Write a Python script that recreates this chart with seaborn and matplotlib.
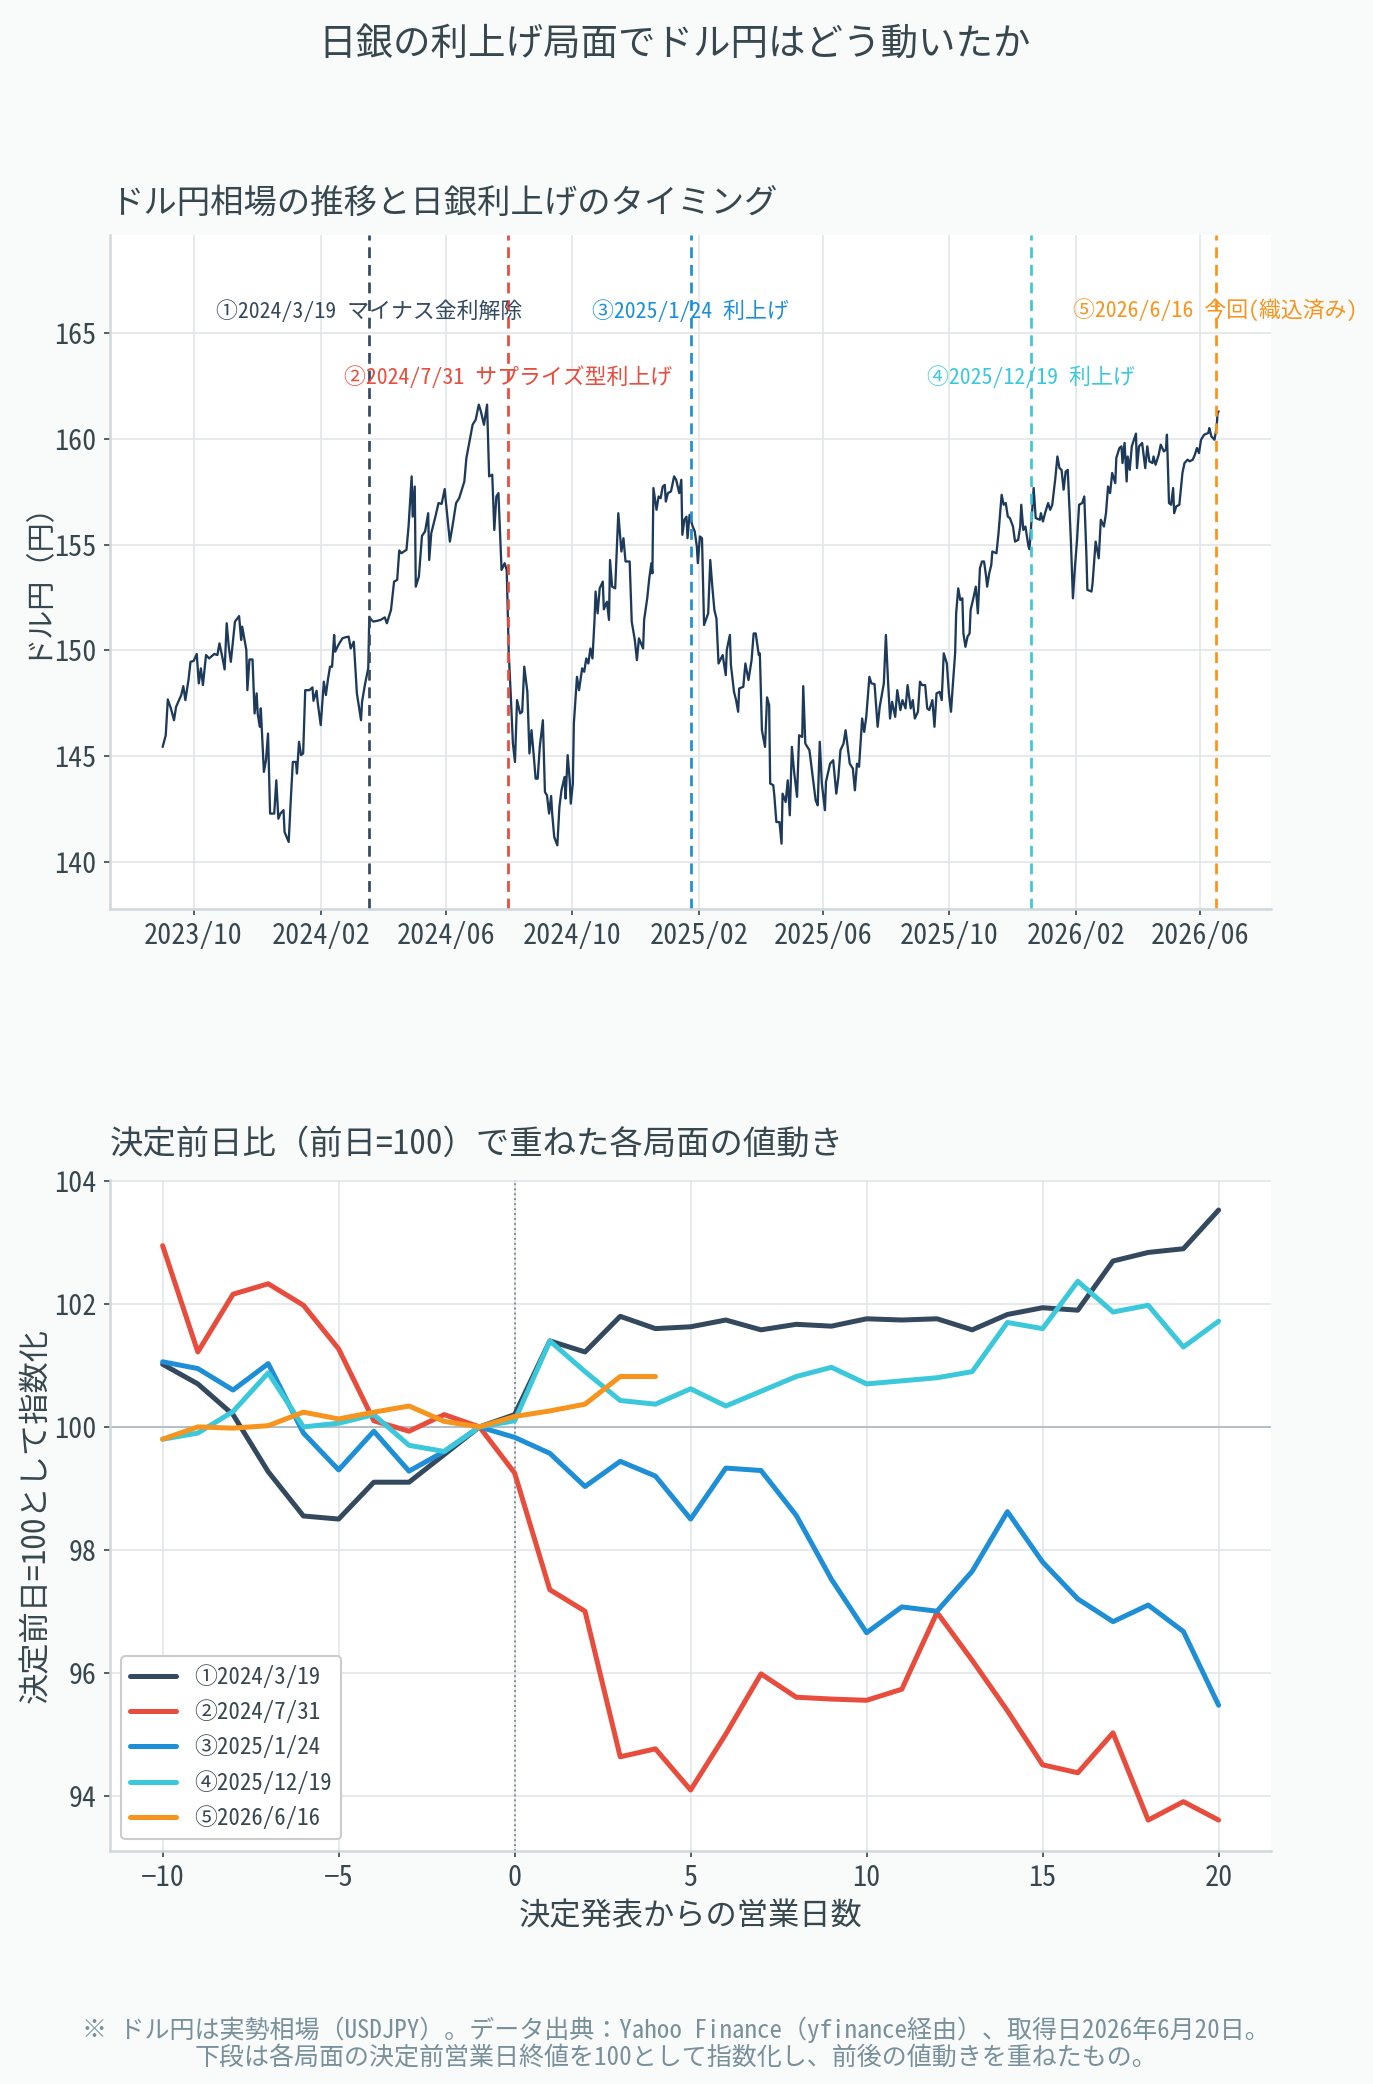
import numpy as np
import pandas as pd
import matplotlib
matplotlib.use("Agg")
import matplotlib.pyplot as plt
import matplotlib.dates as mdates
import seaborn as sns

# ---- USDJPY daily (traced) ----
usd_dates = [
    "2023-09-01", "2023-09-04", "2023-09-06", "2023-09-09", "2023-09-12", "2023-09-14", "2023-09-19", "2023-09-21",
    "2023-09-23", "2023-09-26", "2023-09-28", "2023-10-01", "2023-10-04", "2023-10-06", "2023-10-08", "2023-10-10",
    "2023-10-13", "2023-10-16", "2023-10-21", "2023-10-24", "2023-10-26", "2023-10-29", "2023-10-31", "2023-11-02",
    "2023-11-04", "2023-11-06", "2023-11-10", "2023-11-14", "2023-11-16", "2023-11-17", "2023-11-21", "2023-11-22",
    "2023-11-24", "2023-11-27", "2023-11-29", "2023-12-01", "2023-12-02", "2023-12-04", "2023-12-05", "2023-12-08",
    "2023-12-10", "2023-12-12", "2023-12-14", "2023-12-18", "2023-12-20", "2023-12-22", "2023-12-24", "2023-12-27",
    "2023-12-28", "2024-01-01", "2024-01-03", "2024-01-05", "2024-01-08", "2024-01-09", "2024-01-11", "2024-01-13",
    "2024-01-15", "2024-01-17", "2024-01-21", "2024-01-24", "2024-01-25", "2024-01-28", "2024-01-29", "2024-02-01",
    "2024-02-04", "2024-02-06", "2024-02-08", "2024-02-10", "2024-02-12", "2024-02-14", "2024-02-15", "2024-02-18",
    "2024-02-22", "2024-02-25", "2024-02-28", "2024-03-01", "2024-03-04", "2024-03-07", "2024-03-11", "2024-03-12",
    "2024-03-15", "2024-03-18", "2024-03-19", "2024-03-21", "2024-03-23", "2024-03-27", "2024-03-30", "2024-04-03",
    "2024-04-05", "2024-04-09", "2024-04-12", "2024-04-15", "2024-04-17", "2024-04-19", "2024-04-24", "2024-04-26",
    "2024-04-29", "2024-04-30", "2024-05-02", "2024-05-03", "2024-05-06", "2024-05-09", "2024-05-12", "2024-05-15",
    "2024-05-16", "2024-05-18", "2024-05-22", "2024-05-25", "2024-05-28", "2024-05-31", "2024-06-01", "2024-06-05",
    "2024-06-08", "2024-06-11", "2024-06-14", "2024-06-19", "2024-06-21", "2024-06-24", "2024-06-27", "2024-06-30",
    "2024-07-03", "2024-07-05", "2024-07-08", "2024-07-11", "2024-07-13", "2024-07-16", "2024-07-18", "2024-07-20",
    "2024-07-22", "2024-07-25", "2024-07-28", "2024-07-30", "2024-08-01", "2024-08-03", "2024-08-05", "2024-08-07",
    "2024-08-09", "2024-08-12", "2024-08-14", "2024-08-16", "2024-08-19", "2024-08-21", "2024-08-23", "2024-08-25",
    "2024-08-27", "2024-08-29", "2024-08-31", "2024-09-03", "2024-09-05", "2024-09-07", "2024-09-09", "2024-09-11",
    "2024-09-12", "2024-09-14", "2024-09-17", "2024-09-19", "2024-09-21", "2024-09-24", "2024-09-25", "2024-09-27",
    "2024-09-29", "2024-09-30", "2024-10-02", "2024-10-03", "2024-10-06", "2024-10-08", "2024-10-11", "2024-10-13",
    "2024-10-15", "2024-10-17", "2024-10-19", "2024-10-21", "2024-10-23", "2024-10-24", "2024-10-26", "2024-10-28",
    "2024-10-31", "2024-11-01", "2024-11-04", "2024-11-06", "2024-11-07", "2024-11-09", "2024-11-12", "2024-11-15",
    "2024-11-18", "2024-11-20", "2024-11-22", "2024-11-26", "2024-11-28", "2024-12-01", "2024-12-03", "2024-12-05",
    "2024-12-09", "2024-12-10", "2024-12-13", "2024-12-15", "2024-12-17", "2024-12-18", "2024-12-19", "2024-12-22",
    "2024-12-24", "2024-12-26", "2024-12-28", "2024-12-30", "2024-12-31", "2025-01-02", "2025-01-05", "2025-01-08",
    "2025-01-10", "2025-01-13", "2025-01-15", "2025-01-16", "2025-01-18", "2025-01-20", "2025-01-21", "2025-01-23",
    "2025-01-26", "2025-01-28", "2025-01-30", "2025-01-31", "2025-02-02", "2025-02-04", "2025-02-06", "2025-02-10",
    "2025-02-12", "2025-02-14", "2025-02-16", "2025-02-18", "2025-02-20", "2025-02-24", "2025-02-27", "2025-02-28",
    "2025-03-03", "2025-03-04", "2025-03-07", "2025-03-09", "2025-03-11", "2025-03-12", "2025-03-16", "2025-03-18",
    "2025-03-21", "2025-03-24", "2025-03-26", "2025-03-28", "2025-03-31", "2025-04-01", "2025-04-03", "2025-04-06",
    "2025-04-08", "2025-04-10", "2025-04-11", "2025-04-14", "2025-04-15", "2025-04-17", "2025-04-20", "2025-04-22",
    "2025-04-23", "2025-04-26", "2025-04-28", "2025-04-30", "2025-05-02", "2025-05-04", "2025-05-07", "2025-05-09",
    "2025-05-12", "2025-05-13", "2025-05-15", "2025-05-19", "2025-05-23", "2025-05-25", "2025-05-27", "2025-05-29",
    "2025-05-31", "2025-06-03", "2025-06-04", "2025-06-08", "2025-06-11", "2025-06-14", "2025-06-16", "2025-06-18",
    "2025-06-21", "2025-06-23", "2025-06-27", "2025-06-30", "2025-07-02", "2025-07-04", "2025-07-06", "2025-07-09",
    "2025-07-11", "2025-07-13", "2025-07-16", "2025-07-18", "2025-07-21", "2025-07-24", "2025-07-26", "2025-07-30",
    "2025-08-01", "2025-08-03", "2025-08-05", "2025-08-07", "2025-08-10", "2025-08-12", "2025-08-15", "2025-08-17",
    "2025-08-20", "2025-08-22", "2025-08-25", "2025-08-27", "2025-08-29", "2025-09-01", "2025-09-03", "2025-09-05",
    "2025-09-08", "2025-09-10", "2025-09-12", "2025-09-15", "2025-09-17", "2025-09-19", "2025-09-22", "2025-09-24",
    "2025-09-26", "2025-09-29", "2025-10-01", "2025-10-03", "2025-10-05", "2025-10-07", "2025-10-08", "2025-10-10",
    "2025-10-12", "2025-10-14", "2025-10-15", "2025-10-17", "2025-10-19", "2025-10-21", "2025-10-22", "2025-10-25",
    "2025-10-27", "2025-10-29", "2025-10-31", "2025-11-02", "2025-11-04", "2025-11-06", "2025-11-07", "2025-11-09",
    "2025-11-11", "2025-11-12", "2025-11-16", "2025-11-18", "2025-11-21", "2025-11-23", "2025-11-25", "2025-11-27",
    "2025-11-29", "2025-12-02", "2025-12-04", "2025-12-07", "2025-12-09", "2025-12-10", "2025-12-12", "2025-12-14",
    "2025-12-17", "2025-12-18", "2025-12-20", "2025-12-22", "2025-12-24", "2025-12-28", "2025-12-29", "2025-12-31",
    "2026-01-02", "2026-01-05", "2026-01-07", "2026-01-09", "2026-01-12", "2026-01-14", "2026-01-16", "2026-01-18",
    "2026-01-20", "2026-01-22", "2026-01-24", "2026-01-27", "2026-01-29", "2026-01-31", "2026-02-02", "2026-02-04",
    "2026-02-07", "2026-02-09", "2026-02-11", "2026-02-12", "2026-02-16", "2026-02-17", "2026-02-20", "2026-02-23",
    "2026-02-25", "2026-02-28", "2026-03-02", "2026-03-04", "2026-03-06", "2026-03-08", "2026-03-11", "2026-03-12",
    "2026-03-15", "2026-03-17", "2026-03-18", "2026-03-20", "2026-03-22", "2026-03-23", "2026-03-25", "2026-03-27",
    "2026-03-31", "2026-04-01", "2026-04-03", "2026-04-06", "2026-04-09", "2026-04-11", "2026-04-13", "2026-04-16",
    "2026-04-17", "2026-04-19", "2026-04-22", "2026-04-24", "2026-04-27", "2026-04-29", "2026-04-30", "2026-05-02",
    "2026-05-04", "2026-05-06", "2026-05-07", "2026-05-09", "2026-05-12", "2026-05-15", "2026-05-17", "2026-05-20",
    "2026-05-22", "2026-05-25", "2026-05-27", "2026-05-29", "2026-05-31", "2026-06-02", "2026-06-05", "2026-06-09",
    "2026-06-10", "2026-06-12", "2026-06-15", "2026-06-17", "2026-06-18", "2026-06-19",
]
usd_values = [
    145.44, 145.99, 147.68, 147.26, 146.70, 147.33, 147.89, 148.31,
    147.65, 148.60, 149.46, 149.50, 149.83, 148.44, 149.15, 148.36,
    149.78, 149.62, 149.83, 149.78, 150.33, 149.62, 149.10, 151.28,
    150.17, 149.46, 151.36, 151.62, 150.49, 151.12, 150.02, 148.12,
    149.57, 149.57, 147.02, 147.97, 147.02, 146.39, 147.26, 144.26,
    144.81, 146.07, 142.29, 142.29, 143.86, 142.05, 142.29, 142.45,
    141.42, 140.95, 142.92, 144.73, 144.73, 144.18, 145.68, 145.05,
    145.13, 148.12, 148.12, 148.25, 147.62, 148.09, 147.57, 146.47,
    148.52, 147.89, 148.63, 149.23, 149.23, 150.73, 149.94, 150.25,
    150.57, 150.62, 150.65, 150.09, 150.41, 147.97, 146.70, 147.57,
    148.44, 149.15, 151.59, 151.44, 151.36, 151.40, 151.44, 151.56,
    151.28, 151.91, 153.25, 153.33, 154.72, 154.59, 154.75, 155.85,
    158.22, 156.32, 157.74, 153.01, 153.49, 155.41, 155.62, 156.48,
    154.27, 155.54, 156.32, 156.96, 156.92, 157.62, 157.08, 155.14,
    156.01, 156.96, 157.19, 157.98, 159.09, 159.87, 160.66, 160.90,
    161.61, 161.29, 160.66, 161.61, 158.22, 158.30, 155.69, 157.27,
    157.43, 153.80, 154.12, 153.80, 149.86, 147.81, 145.60, 144.73,
    147.65, 147.02, 147.10, 149.23, 148.04, 145.13, 146.23, 145.13,
    143.94, 143.94, 145.44, 146.70, 143.31, 143.15, 142.29, 143.12,
    142.29, 141.18, 140.79, 142.60, 143.39, 144.02, 143.00, 145.05,
    143.86, 142.76, 143.71, 146.55, 148.75, 148.12, 149.15, 148.99,
    149.62, 149.38, 150.09, 149.62, 151.44, 152.78, 151.75, 152.93,
    153.25, 151.94, 152.30, 151.44, 154.27, 153.01, 152.93, 156.48,
    154.67, 155.30, 154.20, 154.20, 151.36, 150.49, 149.54, 150.57,
    150.09, 151.44, 152.46, 153.41, 154.12, 153.64, 157.67, 156.64,
    157.27, 157.19, 157.74, 157.82, 157.03, 157.43, 157.51, 158.22,
    158.06, 157.43, 158.06, 155.46, 156.17, 156.32, 155.30, 156.40,
    155.85, 155.62, 154.91, 154.12, 155.38, 155.30, 151.20, 151.75,
    154.27, 153.01, 151.91, 151.51, 149.38, 149.78, 148.83, 150.02,
    150.73, 149.31, 148.04, 147.65, 147.10, 148.20, 148.28, 149.38,
    148.60, 149.54, 150.80, 150.80, 149.78, 149.86, 146.23, 145.44,
    147.78, 147.41, 143.71, 143.63, 143.15, 141.89, 141.89, 140.87,
    143.23, 142.84, 143.86, 142.21, 145.44, 144.34, 143.08, 145.99,
    145.91, 148.31, 145.60, 145.28, 143.71, 142.92, 142.68, 145.68,
    143.71, 142.45, 143.79, 144.65, 144.81, 143.23, 144.02, 145.28,
    145.60, 146.23, 144.65, 144.42, 143.39, 144.65, 144.50, 146.78,
    146.15, 146.86, 148.75, 148.44, 148.41, 146.39, 147.33, 148.44,
    150.73, 148.60, 146.78, 147.57, 146.86, 148.12, 147.18, 147.65,
    147.26, 148.36, 147.26, 147.65, 146.78, 147.10, 148.52, 148.36,
    148.36, 147.26, 147.18, 147.65, 146.39, 147.97, 148.04, 147.65,
    149.86, 149.38, 147.97, 147.10, 148.52, 149.86, 151.75, 152.93,
    152.38, 152.46, 150.80, 150.17, 150.65, 150.80, 151.91, 152.54,
    153.01, 151.75, 153.88, 154.20, 154.20, 153.49, 153.01, 153.64,
    154.04, 154.67, 154.59, 155.54, 157.35, 156.88, 156.96, 156.32,
    156.25, 155.85, 155.14, 155.22, 155.85, 156.88, 155.69, 155.85,
    154.91, 154.78, 156.17, 157.67, 156.25, 156.17, 156.48, 156.09,
    156.48, 156.96, 156.64, 156.88, 158.14, 159.16, 158.61, 158.53,
    157.59, 158.45, 158.53, 155.22, 152.46, 153.96, 155.22, 156.88,
    156.96, 157.27, 154.59, 152.86, 152.78, 153.17, 155.14, 154.35,
    156.17, 155.85, 156.48, 157.74, 157.43, 158.38, 157.90, 159.09,
    159.56, 159.64, 158.85, 159.80, 157.98, 159.16, 158.53, 159.64,
    160.24, 158.61, 159.64, 159.80, 158.61, 159.64, 158.93, 158.85,
    159.16, 158.77, 159.24, 159.72, 159.40, 159.48, 160.19, 156.96,
    156.88, 157.67, 156.48, 156.80, 156.88, 158.38, 158.85, 159.01,
    158.93, 159.01, 159.24, 159.56, 159.32, 159.95, 160.19, 160.27,
    160.50, 160.11, 159.95, 160.50, 161.21, 161.29,
]

# ---- BOJ decisions ----
event_dates = ["2024-03-19", "2024-07-31", "2025-01-24", "2025-12-19", "2026-06-16"]
event_notes = [
    "①2024/3/19 マイナス金利解除",
    "②2024/7/31 サプライズ型利上げ",
    "③2025/1/24 利上げ",
    "④2025/12/19 利上げ",
    "⑤2026/6/16 今回(織込済み)",
]
event_names = ["①2024/3/19", "②2024/7/31", "③2025/1/24", "④2025/12/19", "⑤2026/6/16"]
event_colors = ["#34495e", "#e74c3c", "#1e8fd6", "#3cc8db", "#f7941d"]

# ---- index (day before decision = 100) ----
days_full = list(range(-10, 21))
days_now = list(range(-10, 5))
path_1 = [101.02, 100.70, 100.20, 99.27, 98.55, 98.50, 99.10, 99.10, 99.55, 100.00, 100.20,
          101.40, 101.22, 101.80, 101.60, 101.63, 101.74, 101.58, 101.67, 101.64, 101.76,
          101.74, 101.76, 101.58, 101.83, 101.94, 101.90, 102.70, 102.84, 102.90, 103.53]
path_2 = [102.95, 101.22, 102.16, 102.33, 101.98, 101.27, 100.10, 99.93, 100.20, 100.00, 99.25,
          97.35, 97.00, 94.63, 94.76, 94.09, 95.00, 95.98, 95.60, 95.57, 95.55,
          95.73, 96.98, 96.20, 95.38, 94.50, 94.37, 95.02, 93.60, 93.90, 93.60]
path_3 = [101.06, 100.95, 100.60, 101.03, 99.90, 99.30, 99.93, 99.28, 99.60, 100.00, 99.83,
          99.57, 99.03, 99.44, 99.20, 98.50, 99.33, 99.29, 98.56, 97.52, 96.65,
          97.07, 97.00, 97.65, 98.62, 97.80, 97.20, 96.83, 97.10, 96.67, 95.47]
path_4 = [99.80, 99.90, 100.25, 100.88, 100.00, 100.06, 100.20, 99.70, 99.60, 100.00, 100.10,
          101.40, 100.90, 100.43, 100.37, 100.62, 100.34, 100.58, 100.82, 100.97, 100.70,
          100.75, 100.80, 100.90, 101.70, 101.60, 102.37, 101.87, 101.98, 101.30, 101.72]
path_5 = [99.80, 100.00, 99.98, 100.02, 100.24, 100.13, 100.24, 100.34, 100.09, 100.00, 100.17,
          100.26, 100.37, 100.82, 100.82]

TXT = "#37474f"
GRID = "#e1e6ea"
SPINE = "#cfd8dc"

sns.set_theme(style="whitegrid")
plt.rcParams["font.family"] = ["Noto Sans Mono CJK JP", "Noto Sans CJK JP", "DejaVu Sans"]
plt.rcParams.update({
    "figure.facecolor": "#f9fafa",
    "axes.facecolor": "white",
    "axes.edgecolor": SPINE,
    "grid.color": GRID,
    "grid.linewidth": 0.8,
    "text.color": TXT,
    "axes.labelcolor": TXT,
    "xtick.color": TXT,
    "ytick.color": TXT,
})

fig = plt.figure(figsize=(1373 / 150, 2084 / 150), dpi=150)
ax1 = fig.add_axes([0.080, 0.564, 0.846, 0.323])
ax2 = fig.add_axes([0.080, 0.112, 0.846, 0.322])

# ---------- top panel ----------
usd = pd.DataFrame({"date": pd.to_datetime(usd_dates), "usd": usd_values})
sns.lineplot(data=usd, x="date", y="usd", ax=ax1, color="#1d3a5a", linewidth=1.1)

note_y = [166.0, 162.9]
for i, (d, note, c) in enumerate(zip(event_dates, event_notes, event_colors)):
    dt = pd.Timestamp(d)
    ax1.axvline(dt, color=c, linestyle="--", linewidth=1.3, dashes=(4, 2.5))
    ax1.text(dt, note_y[i % 2], note, color=c, ha="center", va="center", fontsize=10.5)

ax1.set_ylim(137.8, 169.6)
ax1.set_yticks([140, 145, 150, 155, 160, 165])
ax1.xaxis.set_major_locator(mdates.MonthLocator(bymonth=[2, 6, 10]))
ax1.xaxis.set_major_formatter(mdates.DateFormatter("%Y/%m"))
ax1.set_xlabel("")
ax1.set_ylabel("ドル円（円）", fontsize=14, labelpad=2)
ax1.set_title("ドル円相場の推移と日銀利上げのタイミング", loc="left", fontsize=16, color=TXT, pad=11)

# ---------- bottom panel ----------
frames = []
for name, d, p in zip(event_names,
                      [days_full, days_full, days_full, days_full, days_now],
                      [path_1, path_2, path_3, path_4, path_5]):
    frames.append(pd.DataFrame({"day": d, "index": p, "event": name}))
paths = pd.concat(frames, ignore_index=True)

ax2.axhline(100, color="#b0bec5", linewidth=0.9, zorder=1)
ax2.axvline(0, color="#7f8c8d", linestyle=":", linewidth=0.9, zorder=1)
sns.lineplot(data=paths, x="day", y="index", hue="event", hue_order=event_names,
             palette=event_colors, linewidth=2.4, ax=ax2, zorder=3)

ax2.set_xticks([-10, -5, 0, 5, 10, 15, 20])
ax2.set_yticks([94, 96, 98, 100, 102, 104])
ax2.set_xlabel("決定発表からの営業日数", fontsize=15)
ax2.set_ylabel("決定前日=100として指数化", fontsize=15, labelpad=1)
ax2.set_title("決定前日比（前日=100）で重ねた各局面の値動き", loc="left", fontsize=16, color=TXT, pad=12.5)
leg = ax2.legend(loc="lower left", fontsize=11, frameon=True, fancybox=True,
                 framealpha=1.0, edgecolor="#cccccc", title=None)
for line in leg.get_lines():
    line.set_linewidth(2.4)

for ax in (ax1, ax2):
    sns.despine(ax=ax)
    ax.spines["left"].set_color(SPINE)
    ax.spines["bottom"].set_color(SPINE)
    ax.spines["left"].set_linewidth(1.2)
    ax.spines["bottom"].set_linewidth(1.2)
    ax.tick_params(axis="both", labelsize=13.5, length=3, width=0.8, color=TXT, left=True, bottom=True)
    ax.grid(True, color=GRID, linewidth=0.8)

fig.suptitle("日銀の利上げ局面でドル円はどう動いたか", fontsize=18, color=TXT, x=0.491, y=0.979, va="center")
fig.text(0.492, 0.0195,
         "※ ドル円は実勢相場（USDJPY）。データ出典：Yahoo Finance（yfinance経由）、取得日2026年6月20日。\n"
         "下段は各局面の決定前営業日終値を100として指数化し、前後の値動きを重ねたもの。",
         ha="center", va="center", fontsize=12, color="#78909c", linespacing=1.15)

fig.savefig("out.png", dpi=150, facecolor=fig.get_facecolor())
